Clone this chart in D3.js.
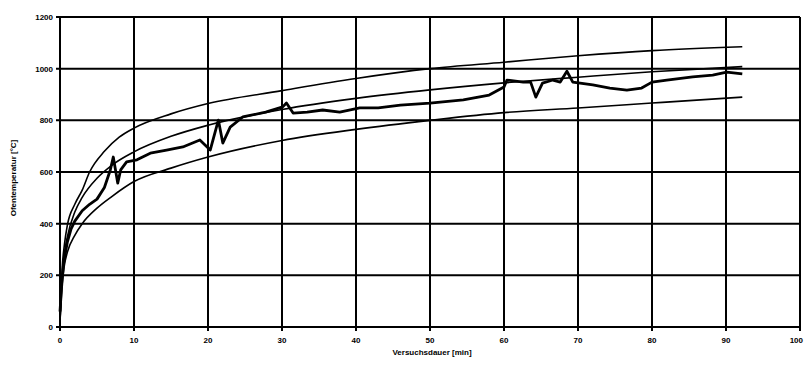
<!DOCTYPE html>
<html>
<head>
<meta charset="utf-8" />
<title>Ofentemperatur</title>
<script src="https://d3js.org/d3.v7.min.js"></script>
<style>
  body { margin: 0; background: #fff; }
  text { font-family: "Liberation Sans", Arial, sans-serif; font-weight: bold; fill: #000; }
</style>
</head>
<body>
<svg id="chart" width="804" height="366"></svg>
<script>
// tick labels
var xTicks = [0, 10, 20, 30, 40, 50, 60, 70, 80, 90, 100];
var yTicks = [0, 200, 400, 600, 800, 1000, 1200];

// upper tolerance curve [min, °C]
var upperT = [0, 0.3, 0.6, 1, 2, 3, 4, 6, 8, 10, 15, 20, 30, 40, 50, 60, 70, 80, 92.2];
var upperV = [20, 230, 320, 395, 475, 530, 600, 680, 735, 770, 825, 865, 915, 962, 1000, 1025, 1050, 1070, 1085];

// standard curve (ETK)
var etkT = [0, 0.3, 0.6, 1, 2, 3, 5, 7, 10, 15, 20, 30, 40, 50, 60, 70, 80, 92.2];
var etkV = [20, 200, 285, 350, 445, 502, 576, 626, 678, 738, 781, 842, 885, 918, 945, 967, 988, 1008];

// lower tolerance curve
var lowerT = [0, 0.3, 0.6, 1, 2, 3, 5, 7, 10, 15, 20, 30, 40, 50, 60, 70, 80, 92.2];
var lowerV = [20, 170, 240, 290, 355, 400, 460, 505, 563, 615, 658, 722, 765, 800, 830, 848, 867, 890];

// measured furnace temperature
var measT = [0, 0.2, 0.5, 1, 1.5, 2, 3, 4, 5, 6, 6.8, 7.2, 7.8, 8.2, 9, 10.4, 12.2, 14.4, 16.6, 18.9,
  20.3, 21.4, 22, 23, 24.7, 27.8, 30.1, 30.6, 31.5, 33.4, 35.5, 37.8, 40.5, 43, 46, 50, 54.5, 58,
  60, 60.4, 62.6, 63.6, 64.3, 65.2, 66.6, 67.6, 68.5, 69.3, 72, 74.3, 76.6, 78.6, 80, 82, 85.5, 88.2, 90.1, 92.2];
var measV = [60, 150, 250, 330, 380, 410, 450, 475, 495, 540, 608, 658, 557, 608, 639, 647, 673, 685, 697, 724,
  685, 801, 712, 774, 813, 832, 852, 867, 828, 832, 840, 832, 848, 848, 859, 867, 879, 898,
  929, 956, 948, 948, 890, 944, 956, 948, 990, 948, 937, 925, 917, 925, 948, 956, 968, 975, 987, 980];

var svg = d3.select("#chart");
var x = d3.scaleLinear().domain([0, 100]).range([60, 800]);
var y = d3.scaleLinear().domain([0, 1200]).range([327, 17]);

// grid
svg.append("g").selectAll("line").data(xTicks).enter().append("line")
  .attr("x1", function(d){ return x(d); }).attr("x2", function(d){ return x(d); })
  .attr("y1", y(0) + 4).attr("y2", y(1200))
  .attr("stroke", "#000").attr("stroke-width", 2);
svg.append("g").selectAll("line").data(yTicks).enter().append("line")
  .attr("x1", x(0) - 4).attr("x2", x(100))
  .attr("y1", function(d){ return y(d); }).attr("y2", function(d){ return y(d); })
  .attr("stroke", "#000").attr("stroke-width", 2);

// tick labels (last one kept inside the window)
svg.append("g").selectAll("text").data(xTicks).enter().append("text")
  .attr("x", function(d){ return d === 100 ? 803 : x(d); }).attr("y", y(0) + 16)
  .attr("text-anchor", function(d){ return d === 100 ? "end" : "middle"; })
  .attr("font-size", 8)
  .text(function(d){ return d; });
svg.append("g").selectAll("text").data(yTicks).enter().append("text")
  .attr("x", x(0) - 7).attr("y", function(d){ return y(d) + 3; })
  .attr("text-anchor", "end").attr("font-size", 8)
  .text(function(d){ return d; });

// axis titles
svg.append("text").attr("x", 432).attr("y", 355)
  .attr("text-anchor", "middle").attr("font-size", 8)
  .text("Versuchsdauer [min]");
svg.append("text").attr("transform", "translate(16,178) rotate(-90)")
  .attr("text-anchor", "middle").attr("font-size", 8)
  .text("Ofentemperatur [°C]");

function drawLine(ts, vs, w, curve) {
  var pts = ts.map(function(t, i){ return [t, vs[i]]; });
  var line = d3.line()
    .x(function(d){ return x(d[0]); })
    .y(function(d){ return y(d[1]); })
    .curve(curve);
  svg.append("path").datum(pts)
    .attr("d", line)
    .attr("fill", "none").attr("stroke", "#000")
    .attr("stroke-width", w).attr("stroke-linejoin", "round");
}

drawLine(upperT, upperV, 1.6, d3.curveMonotoneX);
drawLine(etkT, etkV, 1.6, d3.curveMonotoneX);
drawLine(lowerT, lowerV, 1.6, d3.curveMonotoneX);
drawLine(measT, measV, 2.8, d3.curveLinear);
</script>
</body>
</html>
